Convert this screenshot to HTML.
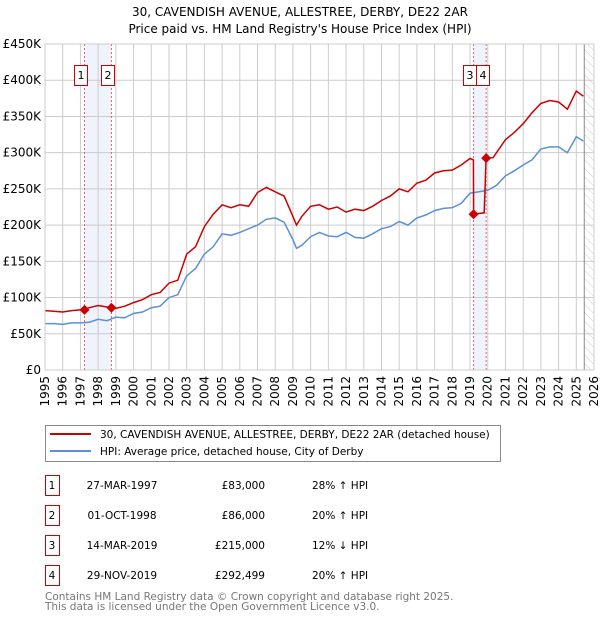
<!DOCTYPE html>
<html><head><meta charset="utf-8"><style>
body{margin:0;background:#fff;font-family:"DejaVu Sans","Liberation Sans",sans-serif;}
svg{display:block}
</style></head><body>
<svg id="chart" width="600" height="620" xmlns="http://www.w3.org/2000/svg" font-family="DejaVu Sans, Liberation Sans, sans-serif">
<defs><pattern id="hatch" width="6" height="6" patternUnits="userSpaceOnUse" patternTransform="rotate(-45)"><line x1="0" y1="0" x2="0" y2="6" stroke="#ccc" stroke-width="1"/></pattern></defs>
<text x="300" y="16" text-anchor="middle" font-size="12">30, CAVENDISH AVENUE, ALLESTREE, DERBY, DE22 2AR</text>
<text x="300" y="33" text-anchor="middle" font-size="12">Price paid vs. HM Land Registry's House Price Index (HPI)</text>
<g id="plot"></g>
<g>
<rect x="45.5" y="425.5" width="455" height="36" fill="#fff" stroke="#888"/>
<line x1="50" y1="434" x2="91" y2="434" stroke="#cc0000" stroke-width="2"/>
<text x="100" y="438" font-size="10.5">30, CAVENDISH AVENUE, ALLESTREE, DERBY, DE22 2AR (detached house)</text>
<line x1="50" y1="451" x2="91" y2="451" stroke="#5b8fd6" stroke-width="2"/>
<text x="100" y="455" font-size="10.5">HPI: Average price, detached house, City of Derby</text>
</g>
<g id="table" font-size="10.5"></g>
<text x="45" y="600" font-size="10.5" fill="#777">Contains HM Land Registry data © Crown copyright and database right 2025.</text>
<text x="45" y="610" font-size="10.5" fill="#777">This data is licensed under the Open Government Licence v3.0.</text>
</svg>
<script>
const hpiYears=[1995,1995.5,1996,1996.5,1997,1997.5,1998,1998.5,1999,1999.5,2000,2000.5,2001,2001.5,2002,2002.5,2003,2003.5,2004,2004.5,2005,2005.5,2006,2006.5,2007,2007.5,2008,2008.5,2009,2009.2,2009.5,2010,2010.5,2011,2011.5,2012,2012.5,2013,2013.5,2014,2014.5,2015,2015.5,2016,2016.5,2017,2017.5,2018,2018.5,2019,2019.5,2020,2020.5,2021,2021.5,2022,2022.5,2023,2023.5,2024,2024.5,2025,2025.4];
const hpiValues=[64,64,63,65,65,66,70,68,73,72,78,80,86,88,100,104,130,140,160,170,188,186,190,195,200,208,210,204,180,168,172,184,190,185,184,190,183,182,188,195,198,205,200,210,214,220,223,224,230,244,246,248,255,268,275,283,290,305,308,308,300,322,316];
const paidYears=[1995,1995.5,1996,1996.5,1997,1997.5,1998,1998.5,1999,1999.5,2000,2000.5,2001,2001.5,2002,2002.5,2003,2003.5,2004,2004.5,2005,2005.5,2006,2006.5,2007,2007.5,2008,2008.5,2009,2009.2,2009.5,2010,2010.5,2011,2011.5,2012,2012.5,2013,2013.5,2014,2014.5,2015,2015.5,2016,2016.5,2017,2017.5,2018,2018.5,2019,2019.19,2019.2,2019.8,2019.91,2020.3,2021,2021.5,2022,2022.5,2023,2023.5,2024,2024.5,2025,2025.4];
const paidValues=[82,81,80,82,83,86,89,87,85,88,93,97,104,107,120,124,160,170,198,215,228,224,228,226,245,252,246,240,212,200,212,226,228,222,225,218,222,220,226,234,240,250,246,258,262,272,275,276,283,292,290,215,217,292.5,293,318,328,340,355,368,372,370,360,385,378];
const saleLabels=["1","2","3","4"];
const saleYears=[1997.23,1998.75,2019.2,2019.91];
const saleValues=[83,86,215,292.499];
const saleDates=["27-MAR-1997","01-OCT-1998","14-MAR-2019","29-NOV-2019"];
const salePrices=["£83,000","£86,000","£215,000","£292,499"];
const saleHpi=["28% ↑ HPI","20% ↑ HPI","12% ↓ HPI","20% ↑ HPI"];
const yTicks=[0,50,100,150,200,250,300,350,400,450];
const yTickLabels=["£0","£50K","£100K","£150K","£200K","£250K","£300K","£350K","£400K","£450K"];
const xTicks=[1995,1996,1997,1998,1999,2000,2001,2002,2003,2004,2005,2006,2007,2008,2009,2010,2011,2012,2013,2014,2015,2016,2017,2018,2019,2020,2021,2022,2023,2024,2025,2026];

const NS="http://www.w3.org/2000/svg";
const X0=45,X1=594,Y0=370,Y1=44;
const x=v=>X0+(v-1995)*(X1-X0)/31;
const y=v=>Y0-(v)*(Y0-Y1)/450;
const plot=document.getElementById('plot');
function mk(tag,attrs,parent){const e=document.createElementNS(NS,tag);for(const k in attrs)e.setAttribute(k,attrs[k]);(parent||plot).appendChild(e);return e;}

for(let i=0;i<4;i+=2){
 const b=mk('rect',{x:x(saleYears[i]),y:Y1,width:x(saleYears[i+1])-x(saleYears[i]),height:Y0-Y1,fill:'#eef3fc'});
 
 
}
const ht=mk('rect',{x:x(2025.45),y:Y1,width:X1-x(2025.45),height:Y0-Y1,fill:'url(#hatch)'});


yTicks.forEach((t,i)=>{
 const g=mk('line',{x1:X0,x2:X1,y1:y(t),y2:y(t),stroke:'#ccc','stroke-width':1});
 
 
 const l=mk('text',{x:X0-4,y:y(t)+4,'text-anchor':'end','font-size':12});
 
 
 l.textContent=yTickLabels[i];
});
xTicks.forEach(t=>{
 const g=mk('line',{x1:x(t),x2:x(t),y1:Y1,y2:Y0,stroke:'#ccc','stroke-width':1});
 
 
 const l=mk('text',{x:0,y:0,'text-anchor':'end','font-size':12,transform:`translate(${x(t)+4},${Y0+6}) rotate(-90)`});
 
 
 l.textContent=t;
});
const vl=mk('line',{x1:x(2025.45),x2:x(2025.45),y1:Y1,y2:Y0,stroke:'#888','stroke-width':1});


saleYears.forEach(s=>{
 const d=mk('line',{x1:x(s),x2:x(s),y1:Y1,y2:Y0,stroke:'#e06060','stroke-width':1,'stroke-dasharray':'2,2'});
 
 
});
function path(xs,vs){return xs.map((t,i)=>(i?'L':'M')+x(t).toFixed(1)+','+y(vs[i]).toFixed(1)).join('');}
const hl=mk('path',{d:path(hpiYears,hpiValues),fill:'none',stroke:'#5b8fd6','stroke-width':1.5});


const pl=mk('path',{d:path(paidYears,paidValues),fill:'none',stroke:'#cc0000','stroke-width':1.5});


const boxOff=[-10,-10,-11,-10];
saleYears.forEach((s,i)=>{
 const cx=x(s),cy=y(saleValues[i]);
 const p=mk('path',{d:`M${cx},${cy-5}L${cx+5},${cy}L${cx},${cy+5}L${cx-5},${cy}Z`,fill:'#cc0000'});
 
 
 const bx=Math.round(cx+boxOff[i])+0.5;
 const r=mk('rect',{x:bx,y:65.5,width:13,height:20,fill:'#fff',stroke:'#cc0000'});
 
 
 const t=mk('text',{x:bx+6.5,y:79,'text-anchor':'middle','font-size':11});
 
 
 t.textContent=saleLabels[i];
});
const bd=mk('rect',{x:X0,y:Y1,width:X1-X0,height:Y0-Y1,fill:'none',stroke:'#ccc'});



const tb=document.getElementById('table');
saleLabels.forEach((lab,i)=>{
 const ty=475+i*30;
 const r=mk('rect',{x:45.5,y:ty+0.5,width:14,height:20,fill:'#fff',stroke:'#cc0000'},tb);
 
 
 const cells=[[52,'middle',lab],[122,'middle',saleDates[i]],[265,'end',salePrices[i]],[312,'start',saleHpi[i]]];
 cells.forEach(c=>{
  const t=mk('text',{x:c[0],y:ty+14,'text-anchor':c[1]},tb);
  
  
  t.textContent=c[2];
 });
});
</script>
</body></html>
